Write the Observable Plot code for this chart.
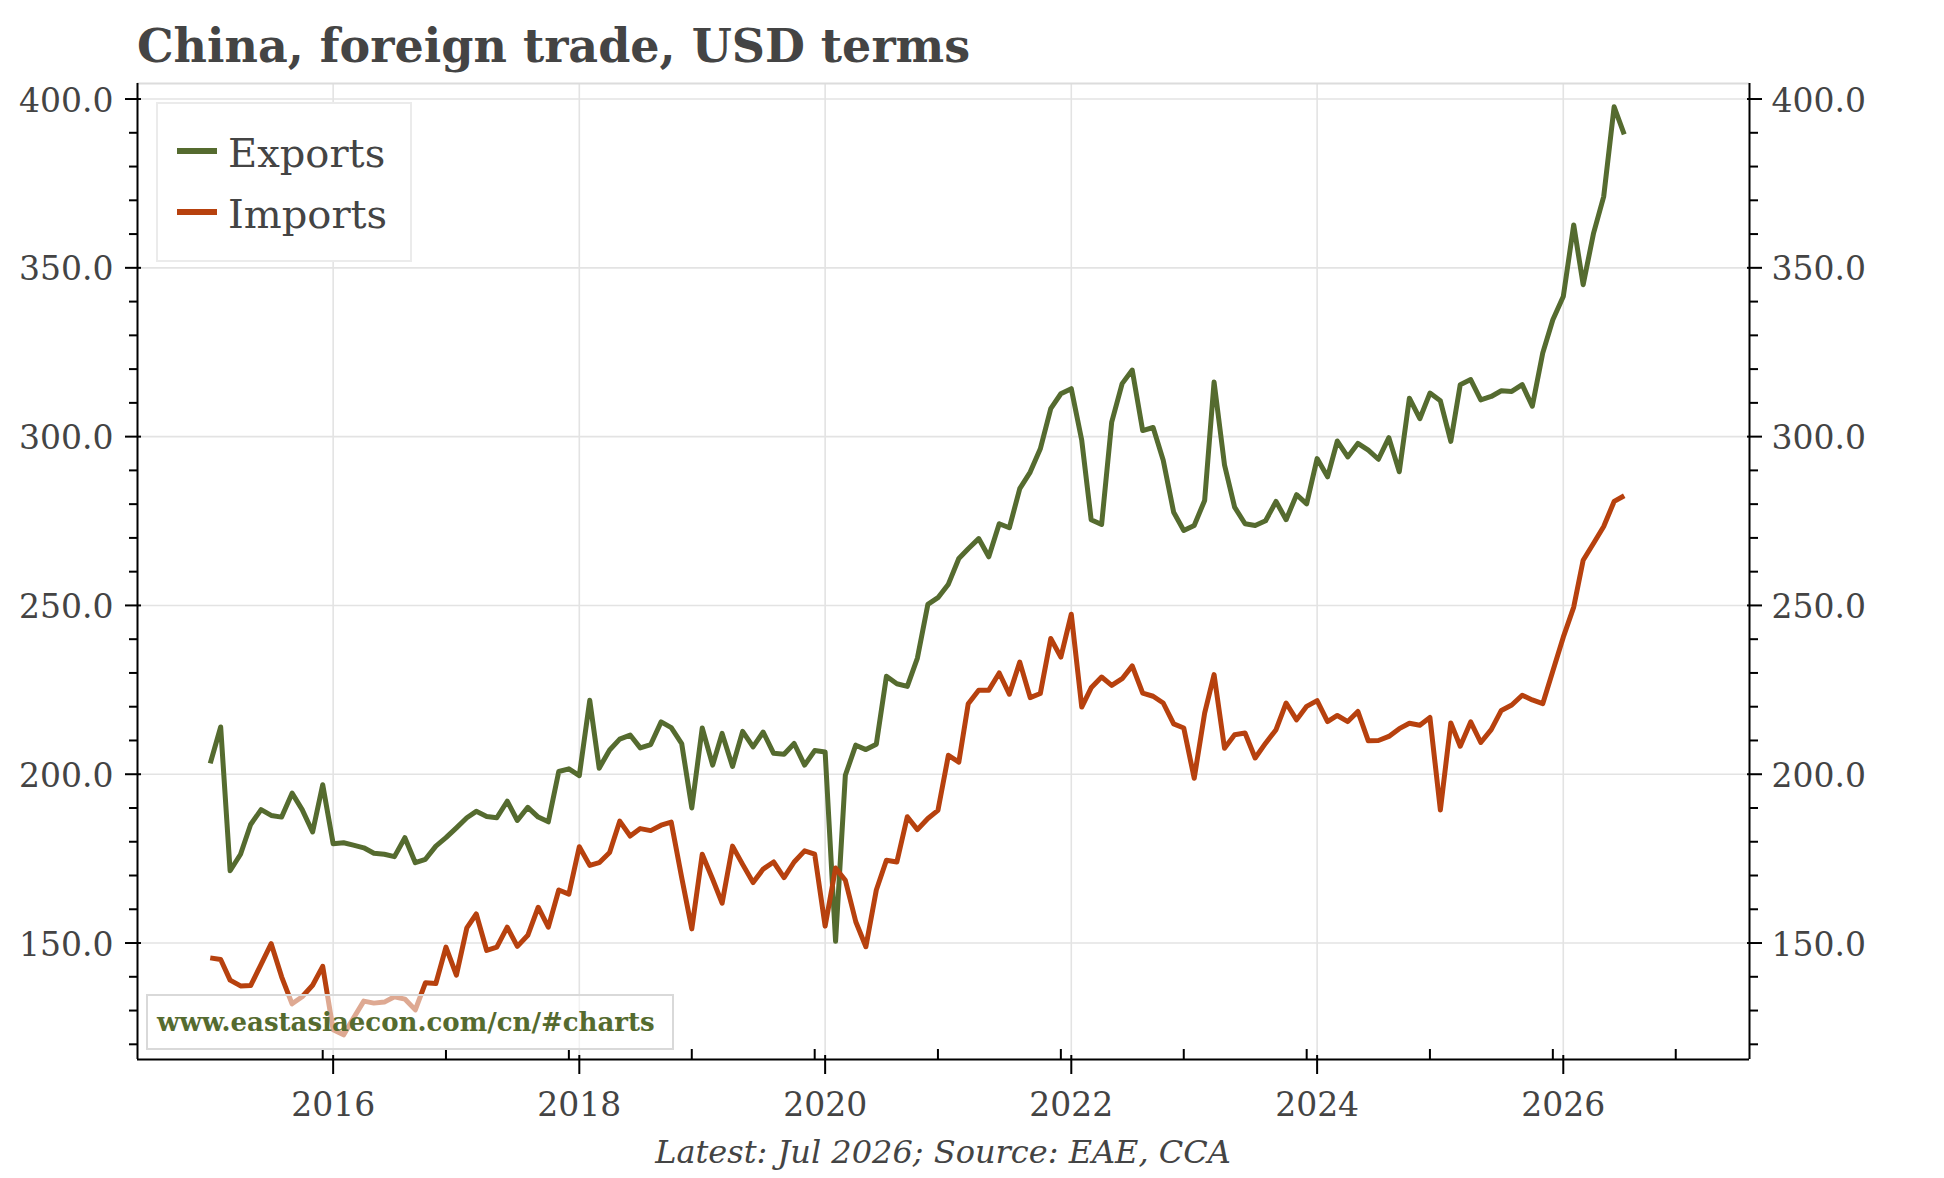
<!DOCTYPE html>
<html>
<head>
<meta charset="utf-8">
<script src="https://cdn.jsdelivr.net/npm/d3@7"></script>
<script src="https://cdn.jsdelivr.net/npm/@observablehq/plot@0.6"></script>
<style>
  html, body { margin: 0; padding: 0; background: #fff; }
  #wrap { position: relative; width: 1944px; height: 1178px; }
  #wrap > svg { display: block; }
</style>
</head>
<body>
<div id="wrap"></div>
<script>
// ---- data (monthly, billion USD), Jan 2015 .. Jul 2026 ----
const startYear = 2015;
const startMonth = 0; // January
const seriesNames = ["Exports", "Imports"];
const seriesColors = ["#556b2f", "#b7410e"];

const exportsUSD = [
  203.2, 214.0, 171.4, 176.3, 185.1, 189.5, 187.8, 187.3, 194.4, 189.5, 182.9, 196.9,
  179.4, 179.7, 179.0, 178.2, 176.6, 176.3, 175.6, 181.2, 173.8, 174.8, 178.7, 181.2,
  184.1, 187.1, 189.0, 187.5, 187.1, 192.0, 186.3, 190.2, 187.3, 185.9, 200.8, 201.6,
  199.6, 221.9, 201.8, 207.2, 210.4, 211.6, 207.8, 208.8, 215.5, 213.8, 209.1, 190.0,
  213.7, 202.7, 212.1, 202.3, 212.7, 208.1, 212.5, 206.2, 205.9, 209.1, 202.7, 207.0,
  206.6, 150.5, 199.7, 208.6, 207.3, 208.9, 229.0, 226.8, 226.0, 234.4, 250.3, 252.3,
  256.3, 263.9, 266.8, 269.8, 264.4, 274.2, 273.0, 284.6, 289.5, 296.4, 308.3, 312.7,
  314.2, 298.9, 275.4, 274.0, 304.3, 315.7, 319.7, 301.8, 302.7, 293.0, 277.6, 272.2,
  273.7, 281.1, 316.2, 291.6, 279.1, 274.2, 273.7, 275.1, 280.8, 275.4, 282.8, 280.1,
  293.5, 288.1, 298.7, 294.0, 298.0, 296.0, 293.3, 299.7, 289.6, 311.4, 305.3, 312.9,
  310.6, 298.6, 315.4, 316.9, 310.9, 311.9, 313.6, 313.4, 315.4, 309.0, 324.8, 334.6,
  341.5, 362.7, 345.0, 360.3, 371.1, 397.7, 389.5
];

const importsUSD = [
  145.6, 145.1, 139.0, 137.3, 137.4, 143.7, 149.8, 140.0, 132.0, 134.1, 137.5, 143.1,
  124.3, 122.8, 127.7, 132.8, 132.2, 132.5, 134.1, 133.4, 130.2, 138.2, 138.0, 148.8,
  140.5, 154.5, 158.6, 147.8, 148.8, 154.7, 149.0, 152.3, 160.6, 154.7, 165.7, 164.5,
  178.5, 173.0, 173.8, 176.8, 186.1, 181.7, 183.9, 183.3, 184.9, 185.8, 169.4, 154.2,
  176.3, 168.9, 161.8, 178.7, 173.3, 167.9, 171.9, 174.0, 169.4, 174.0, 177.3, 176.3,
  155.0, 172.2, 168.6, 156.3, 148.9, 165.7, 174.5, 174.0, 187.4, 183.6, 186.9, 189.3,
  205.6, 203.6, 220.9, 224.9, 224.9, 230.0, 223.7, 233.2, 222.7, 223.9, 240.2, 234.7,
  247.4, 219.9, 225.6, 228.8, 226.3, 228.3, 232.1, 224.0, 223.1, 221.1, 214.9, 213.7,
  198.8, 218.1, 229.5, 207.7, 211.7, 212.2, 204.8, 209.2, 213.2, 221.1, 216.1, 220.1,
  221.8, 215.6, 217.4, 215.6, 218.6, 209.9, 210.0, 211.2, 213.5, 215.1, 214.5, 216.8,
  189.4, 215.2, 208.3, 215.5, 209.4, 213.2, 218.9, 220.5, 223.4, 222.0, 220.9, 230.6,
  240.6, 249.5, 263.4, 268.4, 273.4, 280.8, 282.5
];

// ---- ticks ----
const yMajorTicks = [150, 200, 250, 300, 350, 400];
const yMinorTicks = [120, 130, 140, 160, 170, 180, 190, 210, 220, 230, 240, 260, 270, 280, 290,
                     310, 320, 330, 340, 360, 370, 380, 390];
const xTickYears = [2016, 2018, 2020, 2022, 2024, 2026];
const xMinorTickYears = [2016, 2017, 2018, 2019, 2020, 2021, 2022, 2023, 2024, 2025, 2026, 2027];

// ---- texts ----
const titleText = "China, foreign trade, USD terms";
const captionText = "Latest: Jul 2026; Source: EAE, CCA";
const watermarkText = "www.eastasiaecon.com/cn/#charts";

// ---- build table ----
const rows = [];
[exportsUSD, importsUSD].forEach((vals, s) => {
  vals.forEach((v, i) => rows.push({
    date: new Date(Date.UTC(startYear, startMonth + i, 1)),
    value: v,
    series: seriesNames[s]
  }));
});

const xDomain = [new Date(Date.UTC(2014, 4, 30)), new Date(Date.UTC(2027, 6, 8))];
const yDomain = [115.5, 404.6];
const xTickDates = xTickYears.map(y => new Date(Date.UTC(y, 0, 1)));
const xMinorDates = xMinorTickYears.map(y => new Date(Date.UTC(y - 1, 11, 1)));

const gridStyle = {stroke: "#e3e3e3", strokeOpacity: 1, strokeWidth: 1.6};
const tickStyle = {stroke: "#000", strokeWidth: 2, fill: "none"};
const fmt = d3.format(".1f");

const chart = Plot.plot({
  width: 1944,
  height: 1178,
  marginLeft: 137,
  marginRight: 195,
  marginTop: 83,
  marginBottom: 119,
  style: {fontFamily: "'DejaVu Serif', serif", fontSize: "33px", background: "white", overflow: "visible"},
  x: {type: "utc", domain: xDomain},
  y: {domain: yDomain},
  color: {domain: seriesNames, range: seriesColors},
  marks: [
    Plot.gridX(xTickDates, gridStyle),
    Plot.gridY(yMajorTicks, gridStyle),
    Plot.lineY(rows, {x: "date", y: "value", z: "series", stroke: "series",
                      strokeWidth: 5, strokeLinejoin: "round", strokeLinecap: "butt"}),
    Plot.ruleY([yDomain[1]], {stroke: "#dcdcdc", strokeWidth: 2}),
    Plot.ruleX(xDomain, {stroke: "#000", strokeWidth: 2}),
    Plot.ruleY([yDomain[0]], {stroke: "#000", strokeWidth: 2}),
    // ticks
    Plot.axisY(yMajorTicks, {anchor: "left", tickSize: 16, dx: 4, ...tickStyle}),
    Plot.axisY(yMinorTicks, {anchor: "left", tickSize: 8, ...tickStyle}),
    Plot.axisY(yMajorTicks, {anchor: "right", tickSize: 15, dx: -3, ...tickStyle}),
    Plot.axisY(yMinorTicks, {anchor: "right", tickSize: 8, ...tickStyle}),
    Plot.axisX(xTickDates, {anchor: "bottom", tickSize: 19, dy: -4, ...tickStyle}),
    Plot.axisX(xMinorDates, {anchor: "bottom", tickSize: 10, dy: -10, ...tickStyle}),
    // tick labels
    Plot.axisY(yMajorTicks, {anchor: "left", tickSize: 0, tickPadding: 24, dy: 2,
                             tickFormat: fmt, fill: "#444", label: null}),
    Plot.axisY(yMajorTicks, {anchor: "right", tickSize: 0, tickPadding: 22, dy: 2,
                             tickFormat: fmt, fill: "#444", label: null}),
    Plot.axisX(xTickDates, {anchor: "bottom", tickSize: 0, tickPadding: 33,
                            tickFormat: d3.utcFormat("%Y"), fill: "#444", label: null})
  ]
});
document.getElementById("wrap").appendChild(chart);

// ---- overlay: title, legend, watermark, caption ----
const ov = d3.select("#wrap").append("svg")
  .attr("width", 1944).attr("height", 1178)
  .style("position", "absolute").style("left", "0px").style("top", "0px")
  .style("pointer-events", "none")
  .style("font-family", "'DejaVu Serif', serif");

ov.append("text").attr("x", 137).attr("y", 62)
  .attr("font-size", 46).attr("font-weight", "bold").attr("fill", "#444")
  .text(titleText);

// legend
const lg = ov.append("g");
lg.append("rect").attr("x", 157).attr("y", 103).attr("width", 254).attr("height", 158)
  .attr("fill", "white").attr("stroke", "#ebebeb").attr("stroke-width", 2);
seriesNames.forEach((name, i) => {
  const cy = 151 + i * 61;
  lg.append("line").attr("x1", 177).attr("x2", 217).attr("y1", cy).attr("y2", cy)
    .attr("stroke", seriesColors[i]).attr("stroke-width", 6);
  lg.append("text").attr("x", 228).attr("y", cy + 16)
    .attr("font-size", 40).attr("fill", "#444").text(name);
});

// watermark
ov.append("rect").attr("x", 147).attr("y", 995).attr("width", 526).attr("height", 54)
  .attr("fill", "white").attr("fill-opacity", 0.55)
  .attr("stroke", "#d9d9d9").attr("stroke-width", 2);
ov.append("text").attr("x", 157).attr("y", 1031)
  .attr("font-size", 26).attr("font-weight", "bold").attr("fill", "#556b2f")
  .text(watermarkText);

// caption
ov.append("text").attr("x", 943).attr("y", 1163).attr("text-anchor", "middle")
  .attr("font-size", 32).attr("font-style", "italic").attr("fill", "#444")
  .text(captionText);
</script>
</body>
</html>
